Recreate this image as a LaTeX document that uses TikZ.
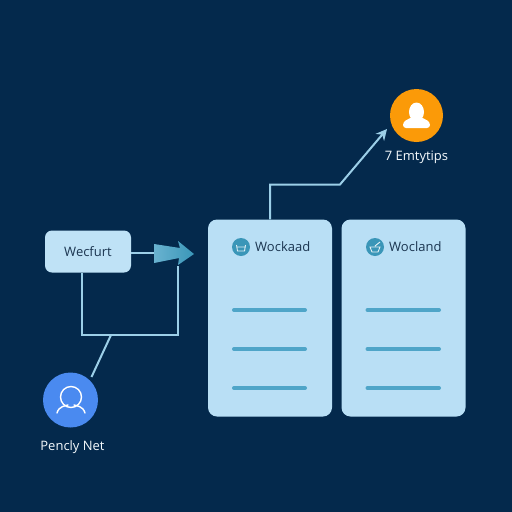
\documentclass[tikz,border=0pt]{standalone}
\usepackage{fontspec}
\setmainfont{Open Sans}
\usepackage{tikz}
\usetikzlibrary{arrows.meta,positioning,calc}
\definecolor{cBack}{HTML}{04294C}
\definecolor{cCard}{HTML}{B9DFF5}
\definecolor{cFront}{HTML}{BFE2F6}
\definecolor{cLine}{HTML}{9CCFE8}
\definecolor{cBar}{HTML}{4FA5C8}
\definecolor{cIcon}{HTML}{3A96B8}
\definecolor{cText}{HTML}{1B3550}
\definecolor{cUser}{HTML}{4A8AF0}
\definecolor{cOrange}{HTML}{FB9A08}
\tikzset{
  card/.style  ={draw=none,fill=cCard,rounded corners=9pt,minimum width=124pt,minimum height=197pt,inner sep=0pt},
  front/.style ={draw=none,fill=cFront,rounded corners=7pt,minimum width=86pt,minimum height=42pt,inner sep=0pt,
                 text=cText,font=\fontsize{13}{15}\selectfont},
  head/.style  ={font=\fontsize{13}{15}\selectfont,text=cText,inner sep=0pt},
  badge/.style ={circle,fill=cIcon,minimum size=18pt,inner sep=0pt},
  glyph/.style ={draw=white!85!cIcon,line width=.9pt},
  bar/.style   ={draw=cBar,line width=4pt,line cap=round},
  wire/.style  ={draw=cLine,line width=2pt},
  person/.style={circle,minimum size=55pt,inner sep=0pt},
  lbl/.style   ={font=\fontsize{13}{15}\selectfont,text=white!90!cLine,inner sep=0pt},
}
\begin{document}
\begin{tikzpicture}[x=1pt,y=-1pt]
\useasboundingbox[fill=cBack] (0,0) rectangle (512,512);

% ===== workload cards ======================================================
\node[card] (cardA) at (270,318) {};
\node[card] (cardB) at (403.5,318) {};
\node[badge] (iconA) at (241,247) {};
\node[badge] (iconB) at (375,247) {};
\node[head,anchor=west] (headA) at (255,247) {Wockaad};
\node[head,anchor=west] (headB) at (389,247) {Wocland};
\draw[glyph] (236.5,245) -- (237.5,251) -- (244.5,251) -- (245.5,245) (237,247) -- (245,247);
\draw[glyph] (370,247) -- (380,247) -- (378,252) -- (372,252) -- cycle (375,246) -- (380,242);
\foreach \row in {310,349,388} {
  \draw[bar] (234,\row) -- (305,\row);
  \draw[bar] (367.5,\row) -- (439,\row);
}

% ===== front node and its wires ============================================
\node[front] (front) at (88,251.5) {Wecfurt};
\coordinate (drop) at (82,272.5);
\coordinate (joint) at (111,335);
\coordinate (tail) at (91.5,377);
\coordinate (backup) at (177.5,266);
\coordinate (split) at (157,253);
\draw[wire] (drop) |- (joint) -| (backup);
\draw[wire] (joint) -- (tail);
\draw[wire] (front.east |- split) -- (split);
\shade[left color=cBar!85!white,right color=cIcon] (154,244) -- (180,248) -- (178,241) -- (194,254) -- (178,265) -- (179,258) -- (154,263) -- cycle;

% ===== people ==============================================================
\node[person,fill=cUser] (net) at (70.5,400) {};
\draw[white,line width=1.4pt] (71,397) circle[radius=10.5];
\draw[white,line width=1.4pt,line cap=round] (57,413) .. controls (59,406) and (65,406) .. (68,405) (74,405) .. controls (77,406) and (83,406) .. (85,413);
\node[lbl,below=12.5pt of net,xshift=2pt] (netlbl) {Pencly Net};

\node[person,fill=cOrange,minimum size=53pt] (tips) at (416.5,115.5) {};
\fill[white] (416.5,112) ellipse[x radius=7.5,y radius=9.5];
\fill[white,rounded corners=3pt] (403,128) -- (403,122) -- (412,117) -- (421,117) -- (430,122) -- (430,128) -- cycle;
\node[lbl,below=9pt of tips] (tipslbl) {7 Emtytips};

% ===== outgoing link =======================================================
\coordinate (bend) at (340,184.5);
\coordinate (head) at (387,129);
\draw[wire,-{Stealth[length=11pt,width=11pt]}] (cardA.north) |- (bend) -- (head);
\end{tikzpicture}
\end{document}
